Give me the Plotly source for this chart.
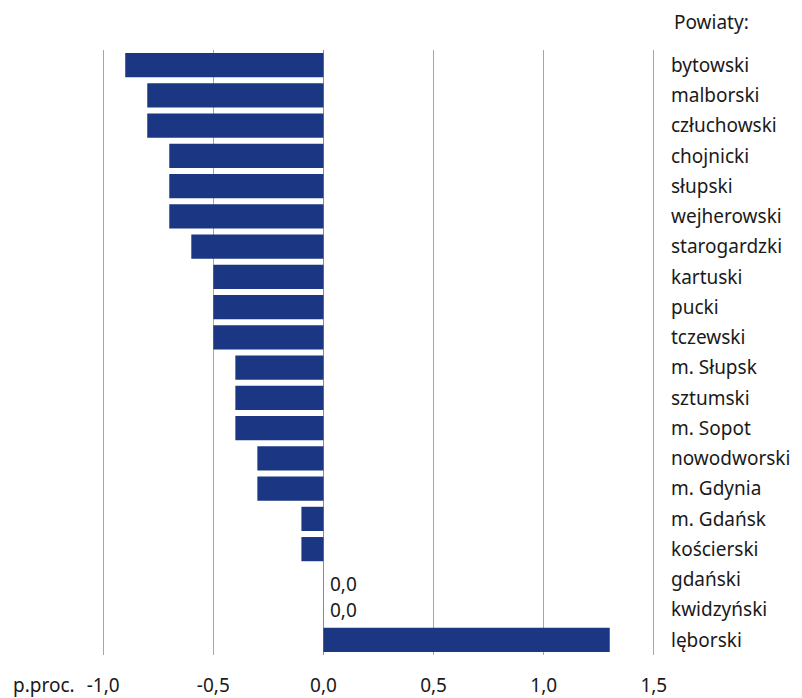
import plotly.graph_objects as go

powiaty = [
    "bytowski", "malborski", "człuchowski", "chojnicki", "słupski",
    "wejherowski", "starogardzki", "kartuski", "pucki", "tczewski",
    "m. Słupsk", "sztumski", "m. Sopot", "nowodworski", "m. Gdynia",
    "m. Gdańsk", "kościerski", "gdański", "kwidzyński", "lęborski",
]
zmiana = [
    -0.9, -0.8, -0.8, -0.7, -0.7,
    -0.7, -0.6, -0.5, -0.5, -0.5,
    -0.4, -0.4, -0.4, -0.3, -0.3,
    -0.1, -0.1, 0.0, 0.0, 1.3,
]
tick_vals = [-1.0, -0.5, 0.0, 0.5, 1.0, 1.5]
tick_text = ["-1,0", "-0,5", "0,0", "0,5", "1,0", "1,5"]

FONT = "Noto Sans"
BAR = "#1b3682"
TEXT = "#1a1a1a"

# page body adds an 8px offset, so margins are set relative to that
M_L, M_R, M_T, M_B = 93, 154, 42, 51
W, H = 802, 698
plot_w = W - M_L - M_R
plot_h = H - M_T - M_B

fig = go.Figure(
    go.Bar(
        x=zmiana,
        y=powiaty,
        orientation="h",
        marker={"color": BAR, "line": {"width": 0}},
        width=0.8,
        hoverinfo="x+y",
    )
)

# labels for zero-valued bars
zero_shift = [-5, 0]
k = 0
for name, val in zip(powiaty, zmiana):
    if val == 0:
        fig.add_annotation(
            x=0, y=name, text=f"{val:.1f}".replace(".", ","),
            showarrow=False, xanchor="left", xshift=5,
            yshift=zero_shift[min(k, len(zero_shift) - 1)],
        )
        k += 1

fig.add_annotation(
    x=(664 - M_L) / plot_w, y=(H - M_B - 14) / plot_h,
    xref="paper", yref="paper", text="Powiaty:", showarrow=False,
    xanchor="left", yanchor="middle",
)
fig.add_annotation(
    x=(3 - M_L) / plot_w, y=(H - M_B - 677) / plot_h,
    xref="paper", yref="paper", text="p.proc.", showarrow=False,
    xanchor="left", yanchor="middle",
)

fig.update_layout(
    width=W,
    height=H,
    template="plotly_white",
    plot_bgcolor="white",
    paper_bgcolor="white",
    showlegend=False,
    bargap=0.2,
    margin={"l": M_L, "r": M_R, "t": M_T, "b": M_B, "autoexpand": False},
    font={"family": FONT, "size": 19, "color": TEXT},
    xaxis={
        "range": [-1.01, 1.51],
        "tickvals": tick_vals,
        "ticktext": tick_text,
        "showgrid": True,
        "gridcolor": "#a6a6a6",
        "gridwidth": 1.3,
        "zeroline": True,
        "zerolinecolor": "#8c8c8c",
        "zerolinewidth": 1.3,
        "showline": False,
        "ticks": "outside",
        "ticklen": 13,
        "tickcolor": "rgba(0,0,0,0)",
        "fixedrange": True,
    },
    yaxis={
        "autorange": "reversed",
        "side": "right",
        "showgrid": False,
        "zeroline": False,
        "showline": False,
        "ticks": "",
        "ticklabelstandoff": 14,
        "automargin": False,
        "fixedrange": True,
    },
)

fig.write_html("out.html")
